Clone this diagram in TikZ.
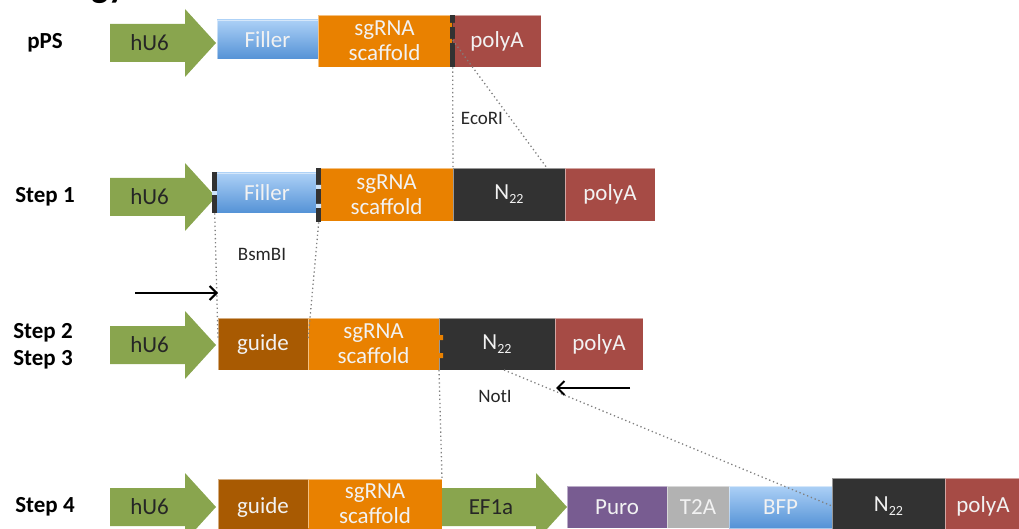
\documentclass[tikz,border=0pt]{standalone}
\usepackage{fontspec}
\setmainfont{Carlito}
\usetikzlibrary{arrows.meta}
\definecolor{gr}{RGB}{137,165,78}
\definecolor{orng}{RGB}{233,129,0}
\definecolor{pa}{RGB}{166,75,69}
\definecolor{dk}{RGB}{50,50,50}
\definecolor{gd}{RGB}{168,90,2}
\definecolor{pu}{RGB}{120,92,145}
\definecolor{tg}{RGB}{178,178,178}
\definecolor{blt}{RGB}{172,208,246}
\definecolor{blb}{RGB}{84,146,214}
\definecolor{lt}{RGB}{242,242,242}
\definecolor{dtxt}{RGB}{38,38,38}
\newcommand\Nsub{N\raisebox{-4pt}{\fontsize{14}{14}\selectfont 22}}
\newcommand\promoter[5]{%
  \fill[gr] (#2,#4-19) -- (#3-31,#4-19) -- (#3-31,#4-34) -- (#3,#4) -- (#3-31,#4+34) -- (#3-31,#4+19) -- (#2,#4+19) -- cycle;
  \node[ptext] (#1) at ({(#2+#3-31)/2+2},#4) {#5};
}
\begin{document}
\begin{tikzpicture}[x=1pt,y=-1pt,
  box/.style={draw=white, draw opacity=0.5, line width=0.5pt, inner sep=0pt, outer sep=0pt, anchor=north west,
     text=lt, align=center, font=\fontsize{23}{25}\selectfont},
  ptext/.style={text=dtxt, font=\fontsize{23}{24}\selectfont, inner sep=0pt},
  lab/.style={font=\bfseries\fontsize{23}{27}\selectfont, text=black, align=left, inner sep=0pt},
  enz/.style={font=\fontsize{19}{20}\selectfont, text=dtxt, inner sep=0pt},
  dots/.style={line width=1.3pt, dash pattern=on 1.3pt off 2.8pt, draw=black!50},
  parrow/.style={-{Straight Barb[length=7pt,width=14pt,line width=2pt]}, line width=2pt, draw=black},
  site/.style={fill=dk}]
\useasboundingbox (0,0) rectangle (1019,529);
% title fragment
\node[anchor=base west, font=\bfseries\fontsize{36}{36}\selectfont, inner sep=0pt] (title) at (2,-2) {Strategy};

% ---------------- pPS ----------------
\node[lab] (l0) at (45,43) {pPS};
\promoter{a0}{110}{216}{43}{hU6}
\node[box, top color=blt, bottom color=blb, minimum width=101pt, minimum height=39pt] (f0) at (217,20) {Filler};
\node[box, fill=orng, minimum width=133pt, minimum height=52pt] (s0) at (318,15) {sgRNA\\scaffold};
\node[box, fill=pa, minimum width=88pt, minimum height=52pt] (p0) at (453,15) {polyA};
\node[site, inner sep=0pt, minimum width=5pt, minimum height=52pt, anchor=north west] (b0) at (450,15) {};
\fill[orng] (450,23) rectangle (452,27) (450,39) rectangle (452,43);
\fill[pa] (455,23) rectangle (453,27) (455,39) rectangle (453,43);
\node[enz] (e1) at (482,118) {EcoRI};

% ---------------- Step 1 ----------------
\node[lab] (l1) at (45,197) {Step 1};
\promoter{a1}{110}{216}{197}{hU6}
\node[box, top color=blt, bottom color=blb, minimum width=102pt, minimum height=40pt] (f1) at (216,173) {Filler};
\node[box, fill=orng, minimum width=133pt, minimum height=53pt] (s1) at (320,168) {sgRNA\\scaffold};
\node[box, fill=dk, minimum width=112pt, minimum height=53pt] (n1) at (453,168) {\Nsub};
\node[box, fill=pa, minimum width=90pt, minimum height=53pt] (p1) at (565,168) {polyA};
\node[site, inner sep=0pt, minimum width=5pt, minimum height=41pt, anchor=north west] (k1) at (212,172) {};
\fill[blt!60!white] (212,191) rectangle (217,195);
\node[site, inner sep=0pt, minimum width=5pt, minimum height=54pt, anchor=north west] (k2) at (316,168) {};
\fill[blt!60!white] (316,185) rectangle (321,189) (316,204) rectangle (321,208);
\node[enz] (e2) at (262,254) {BsmBI};

% ---------------- Step 2 / 3 ----------------
\node[lab] (l2) at (43,346) {Step 2\\Step 3};
\promoter{a2}{110}{216}{345}{hU6}
\node[box, fill=gd, minimum width=90pt, minimum height=52pt] (g2) at (218,318) {guide};
\node[box, fill=orng, minimum width=131pt, minimum height=52pt] (s2) at (308,318) {sgRNA\\scaffold};
\node[box, fill=dk, minimum width=116pt, minimum height=52pt] (n2) at (439,318) {\Nsub};
\node[box, fill=pa, minimum width=88pt, minimum height=52pt] (p2) at (555,318) {polyA};
\fill[orng] (439,335) rectangle (443,340) (439,353) rectangle (443,358);
\node[enz] (e3) at (495,396) {NotI};

% ---------------- Step 4 ----------------
\node[lab] (l4) at (45,507) {Step 4};
\promoter{a4}{110}{216}{507}{hU6}
\node[box, fill=gd, minimum width=90pt, minimum height=56pt] (g4) at (218,479) {guide};
\node[box, fill=orng, minimum width=134pt, minimum height=50pt] (s4) at (308,479) {sgRNA\\scaffold};
\fill[orng] (308,528) rectangle (442,535);
\promoter{e4}{442}{567}{507}{EF1a}
\node[box, fill=pu, minimum width=100pt, minimum height=42pt] (u4) at (567,486) {Puro};
\node[box, fill=tg, minimum width=62pt, minimum height=42pt] (t4) at (667,486) {T2A};
\node[box, top color=blt, bottom color=blb, minimum width=103pt, minimum height=42pt] (bf4) at (729,486) {BFP};
\node[box, fill=dk, minimum width=113pt, minimum height=56pt] (n4) at (832,478) {\Nsub};
\node[box, fill=pa, minimum width=76pt, minimum height=56pt] (p4) at (945,478) {polyA};

% ---------------- connectors ----------------
\draw[dots] (b0.south) -- (n1.north west);
\draw[dots] (b0.center) ++(0,-1) coordinate (d0) -- ([xshift=-18pt]n1.north east);
\draw[dots] (k1.south) -- ([yshift=-22pt]g2.north west);
\draw[dots] (k2.south) -- ([yshift=-22pt]g2.north east);
\draw[dots] (n2.south west) -- (s4.north east);
\draw[dots] ([xshift=65pt]n2.south west) -- (n4.west);
\coordinate (c1) at (135,293);
\draw[parrow] (c1) -- (c1 -| g2.north west);
\coordinate (c2) at (630,388);
\draw[parrow] (c2) -- ++(-74,0);
\end{tikzpicture}
\end{document}
